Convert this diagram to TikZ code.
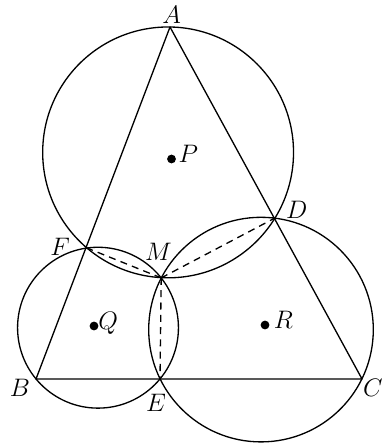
\documentclass[tikz,border=0pt]{standalone}
\usetikzlibrary{through}
\begin{document}
\begin{tikzpicture}[x=0.02cm, y=-0.02cm, line width=0.75pt,
    ponto/.style={circle, fill, inner sep=0pt, minimum size=5pt},
    rotulo/.style={font=\fontsize{14}{16}\selectfont, inner sep=0pt},
    tracejado/.style={dash pattern=on 4pt off 3pt}]
    \useasboundingbox (0,0) rectangle (381,448);

    % Vertices e pontos
    \coordinate (A) at (170,27);
    \coordinate (B) at (36,379);
    \coordinate (C) at (362,379);
    \coordinate (D) at (275,218);
    \coordinate (E) at (160,379);
    \coordinate (F) at (87,248);
    \coordinate (M) at (161.2,277.9);

    % Centros das circunferencias
    \coordinate (cP) at (168.1,152.4);
    \coordinate (cQ) at (98,327.7);
    \coordinate (cR) at (261,329.6);

    % Circunferencias
    \node[draw, circle through=(A)] (circP) at (cP) {};
    \node[draw, circle through=(B)] (circQ) at (cQ) {};
    \node[draw, circle through=(C)] (circR) at (cR) {};

    % Triangulo
    \draw[line join=round] (A) -- (B) -- (C) -- cycle;

    % Cordas
    \foreach \p in {F, D, E}
        \draw[tracejado] (M) -- (\p);

    % Centros marcados
    \foreach \n/\x/\y in {P/171.5/159, Q/94/326, R/265/325}
        \node[ponto] (\n) at (\x,\y) {};

    % Rotulos
    \foreach \n/\x/\y in {A/171.7/15, B/20/388, C/373/388, D/296.7/210,
                          E/156/403, F/60/246.7, M/158.3/251.7}
        \node[rotulo] (l\n) at (\x,\y) {$\n$};
    \foreach \n/\x/\y in {P/188.3/154, Q/108.3/323.3, R/283.3/320}
        \node[rotulo] (l\n) at (\x,\y) {$\n$};
\end{tikzpicture}
\end{document}
